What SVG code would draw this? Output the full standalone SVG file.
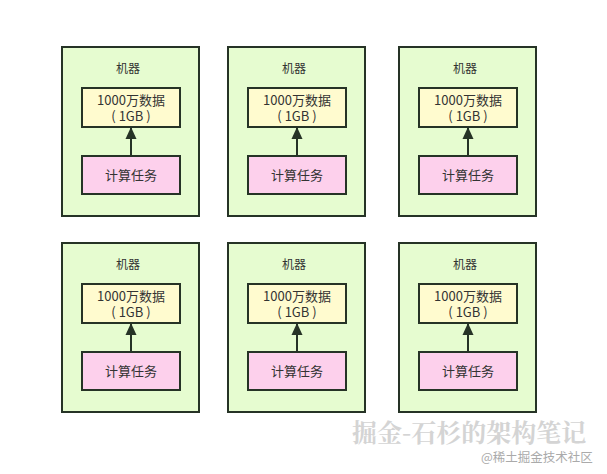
<svg xmlns="http://www.w3.org/2000/svg" width="607" height="474" viewBox="0 0 607 474">
<defs>
<style>
.m{fill:#e6fcd0;stroke:#263326;stroke-width:2}
.d{fill:#fffbcf;stroke:#263326;stroke-width:2}
.t{fill:#fdd0ec;stroke:#263326;stroke-width:2}
text{font-family:"Noto Sans CJK SC","Liberation Sans",sans-serif;fill:#333;text-anchor:middle}
.s12{font-size:12px}
.s13{font-size:13px}
.c{stroke:#263326;stroke-width:2;fill:none}
.wm{font-family:"Noto Serif CJK SC","Liberation Serif","Noto Sans CJK SC",serif;font-size:25px;fill:#d4d4d4;font-weight:bold;text-anchor:start}
.wm2{font-size:12.5px;fill:#aaaaaa;text-anchor:start}
</style>
<marker id="ah" viewBox="0 0 12 12" refX="11" refY="6" markerWidth="12" markerHeight="12" markerUnits="userSpaceOnUse" orient="auto">
<path d="M0,0.5 L12,6 L0,11.5 Z" fill="#263326"/>
</marker>
<g id="mach">
<rect class="m" x="0" y="0" width="137" height="169"/>
<text class="s12" x="66" y="26">机器</text>
<rect class="d" x="20" y="41" width="98" height="39"/>
<text class="s13" x="69" y="58">1000万数据</text>
<text class="s13" x="69" y="74">( 1GB )</text>
<rect class="t" x="20" y="109" width="98" height="38"/>
<text class="s13" x="69" y="133">计算任务</text>
</g>
</defs>
<g id="n1"><use href="#mach" x="62" y="47"/></g>
<g id="n2"><use href="#mach" x="228" y="47"/></g>
<g id="n3"><use href="#mach" x="399" y="47"/></g>
<g id="n4"><use href="#mach" x="62" y="243"/></g>
<g id="n5"><use href="#mach" x="228" y="243"/></g>
<g id="n6"><use href="#mach" x="399" y="243"/></g>
<g id="connectors">
<line class="c" x1="131" y1="155" x2="131" y2="128" marker-end="url(#ah)"/>
<line class="c" x1="297" y1="155" x2="297" y2="128" marker-end="url(#ah)"/>
<line class="c" x1="468" y1="155" x2="468" y2="128" marker-end="url(#ah)"/>
<line class="c" x1="131" y1="351" x2="131" y2="324" marker-end="url(#ah)"/>
<line class="c" x1="297" y1="351" x2="297" y2="324" marker-end="url(#ah)"/>
<line class="c" x1="468" y1="351" x2="468" y2="324" marker-end="url(#ah)"/>
</g>
<text class="wm" x="352" y="442">掘金-石杉的架构笔记</text>
<text class="wm2" x="481" y="462">@稀土掘金技术社区</text>
</svg>
